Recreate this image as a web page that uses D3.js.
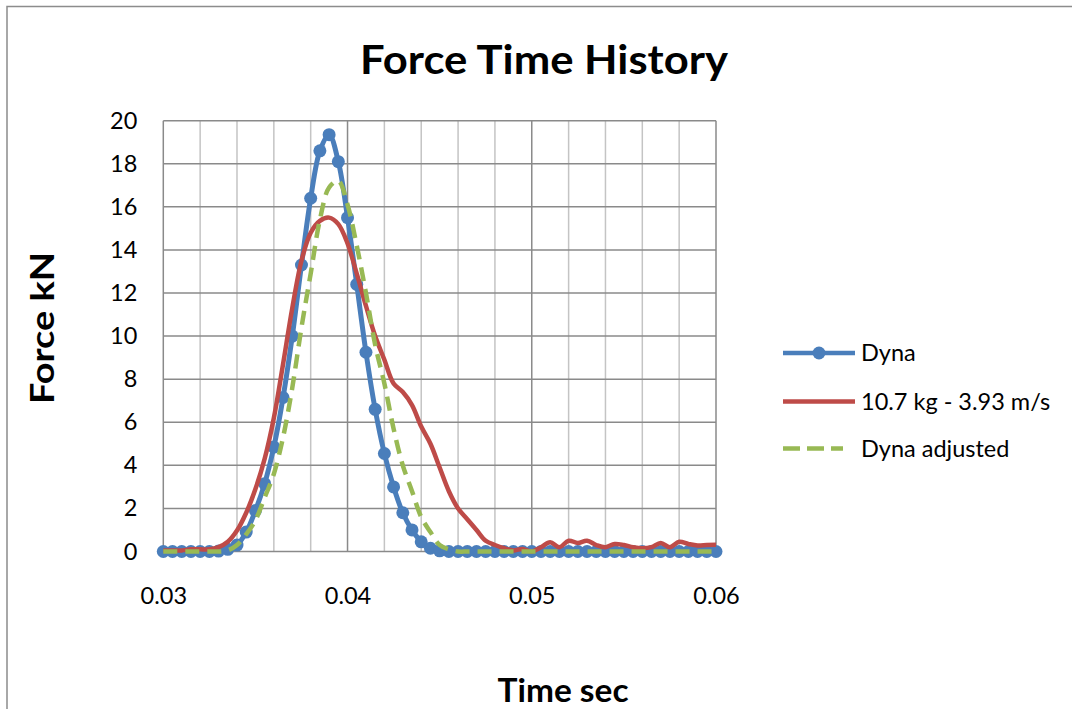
<!DOCTYPE html>
<html><head><meta charset="utf-8">
<script src="https://cdn.jsdelivr.net/npm/d3@7"></script>
<style>
html,body{margin:0;padding:0;background:#fff;}
svg{display:block;font-family:Lato,"Open Sans",sans-serif;}
</style></head>
<body><svg id="c" width="1072" height="709"></svg>
<script>
// ---- data ----
const dynaTime = [0.0300,0.0305,0.0310,0.0315,0.0320,0.0325,0.0330,0.0335,0.0340,0.0345,0.0350,0.0355,0.0360,0.0365,0.0370,0.0375,0.0380,0.0385,0.0390,0.0395,0.0400,0.0405,0.0410,0.0415,0.0420,0.0425,0.0430,0.0435,0.0440,0.0445,0.0450,0.0455,0.0460,0.0465,0.0470,0.0475,0.0480,0.0485,0.0490,0.0495,0.0500,0.0505,0.0510,0.0515,0.0520,0.0525,0.0530,0.0535,0.0540,0.0545,0.0550,0.0555,0.0560,0.0565,0.0570,0.0575,0.0580,0.0585,0.0590,0.0595,0.0600];
const dynaForce = [0,0,0,0,0,0,0.02,0.1,0.3,0.9,1.9,3.15,4.85,7.15,10.0,13.3,16.4,18.6,19.35,18.1,15.5,12.4,9.25,6.6,4.55,3.0,1.8,1.0,0.45,0.15,0.03,0,0,0,0,0,0,0,0,0,0,0,0,0,0,0,0,0,0,0,0,0,0,0,0,0,0,0,0,0,0];
const testTime = dynaTime;
const testForce = [0.05,0.05,0.05,0.1,0.1,0.1,0.2,0.45,0.97,1.8,2.9,4.3,6.2,8.7,11.3,13.5,14.8,15.35,15.5,15.2,14.3,12.9,11.4,10.0,8.9,7.8,7.4,6.8,5.8,5.0,3.9,2.8,2.0,1.5,1.0,0.5,0.3,0.15,0.05,0.12,0.0,0.2,0.43,0.2,0.5,0.4,0.5,0.3,0.2,0.35,0.3,0.2,0.15,0.2,0.4,0.2,0.45,0.35,0.28,0.3,0.31];
const adjTime = dynaTime;
const adjForce = [0,0,0,0,0,0,0,0.05,0.3,0.8,1.45,2.5,3.6,5.3,7.6,10.4,12.9,15.4,16.9,17.2,16.1,14.2,12.0,9.6,7.8,5.7,4.0,2.8,1.6,0.9,0.3,0.1,0,0,0,0,0,0,0,0,0,0,0,0,0,0,0,0,0,0,0,0,0,0,0,0,0,0,0,0,0];
const xTicks = [0.03,0.04,0.05,0.06];
const xMinor = [0.032,0.034,0.036,0.038,0.042,0.044,0.046,0.048,0.052,0.054,0.056,0.058];
const yTicks = [0,2,4,6,8,10,12,14,16,18,20];
const seriesNames = ["Dyna","10.7 kg - 3.93 m/s","Dyna adjusted"];
const seriesColors = ["#4A7EBB","#BE4B48","#98B954"];

// ---- layout ----
const svg = d3.select("#c");
const L=163.3, R=716, T=120.7, B=551.5;
const x = d3.scaleLinear().domain([0.03,0.06]).range([L,R]);
const y = d3.scaleLinear().domain([0,20]).range([B,T]);

// outer border
svg.append("rect").attr("x",7).attr("y",6.5).attr("width",1080).attr("height",720)
  .attr("fill","none").attr("stroke","#8c8c8c").attr("stroke-width",1.5);

// title
svg.append("text").attr("x",544).attr("y",74).attr("text-anchor","middle")
  .attr("font-weight","bold").attr("font-size",41).attr("textLength",368).attr("lengthAdjust","spacingAndGlyphs")
  .text("Force Time History");

// grid
const g = svg.append("g");
g.selectAll(".vm").data(xMinor).enter().append("line")
  .attr("x1",d=>x(d)).attr("x2",d=>x(d)).attr("y1",T).attr("y2",B)
  .attr("stroke","#c4c4c4").attr("stroke-width",1.5);
g.selectAll(".vM").data(xTicks).enter().append("line")
  .attr("x1",d=>x(d)).attr("x2",d=>x(d)).attr("y1",T).attr("y2",B)
  .attr("stroke","#8a8a8a").attr("stroke-width",1.5);
g.selectAll(".h").data(yTicks).enter().append("line")
  .attr("x1",L).attr("x2",R).attr("y1",d=>y(d)).attr("y2",d=>y(d))
  .attr("stroke","#8a8a8a").attr("stroke-width",1.5);

// axes labels
const yAxis = d3.axisLeft(y).tickValues(yTicks).tickSize(0).tickPadding(26);
const ya = svg.append("g").attr("transform",`translate(${L},0)`).call(yAxis);
ya.select(".domain").remove();
ya.selectAll("text").attr("font-size",23.5).attr("font-family","Lato").attr("fill","#000");
const xAxis = d3.axisBottom(x).tickValues(xTicks).tickSize(0).tickPadding(36).tickFormat(d3.format(".2f"));
const xa = svg.append("g").attr("transform",`translate(0,${B})`).call(xAxis);
xa.select(".domain").remove();
xa.selectAll("text").attr("font-size",23.5).attr("font-family","Lato").attr("fill","#000");

// axis titles
svg.append("text").attr("x",563).attr("y",702).attr("text-anchor","middle")
  .attr("font-weight","bold").attr("font-size",32).attr("textLength",131).attr("lengthAdjust","spacingAndGlyphs")
  .text("Time sec");
svg.append("text").attr("transform","translate(54,328) rotate(-90)").attr("text-anchor","middle")
  .attr("font-weight","bold").attr("font-size",32).attr("textLength",152).attr("lengthAdjust","spacingAndGlyphs")
  .text("Force kN");

// lines
const line = d3.line().x(d=>x(d[0])).y(d=>y(d[1])).curve(d3.curveCatmullRom.alpha(0.5));
const dyna = dynaTime.map((t,i)=>[t,dynaForce[i]]);
const test = testTime.map((t,i)=>[t,testForce[i]]);
const adj = adjTime.map((t,i)=>[t,adjForce[i]]);
const pl = svg.append("g");
pl.append("path").datum(dyna).attr("d",line).attr("fill","none").attr("stroke",seriesColors[0]).attr("stroke-width",5).attr("stroke-linejoin","round");
pl.selectAll(".m").data(dyna).enter().append("circle").attr("cx",d=>x(d[0])).attr("cy",d=>y(d[1])).attr("r",6.5).attr("fill",seriesColors[0]);
pl.append("path").datum(test).attr("d",line).attr("fill","none").attr("stroke",seriesColors[1]).attr("stroke-width",4.5).attr("stroke-linejoin","round");
pl.append("path").datum(adj).attr("d",line).attr("fill","none").attr("stroke",seriesColors[2]).attr("stroke-width",4.5).attr("stroke-dasharray","14,8");

// legend
const lg = svg.append("g");
const ly = [353,401.5,448.5];
seriesNames.forEach((n,i)=>{
  const l = lg.append("line").attr("x1",783).attr("x2",855).attr("y1",ly[i]).attr("y2",ly[i])
    .attr("stroke",seriesColors[i]).attr("stroke-width",4.5);
  if(i===2) l.attr("x2",843).attr("stroke-dasharray","17,7");
  if(i===0) lg.append("circle").attr("cx",819).attr("cy",ly[i]).attr("r",6.5).attr("fill",seriesColors[i]);
  lg.append("text").attr("x",861).attr("y",ly[i]+8).attr("font-size",23.5).text(n);
});
</script></body></html>
